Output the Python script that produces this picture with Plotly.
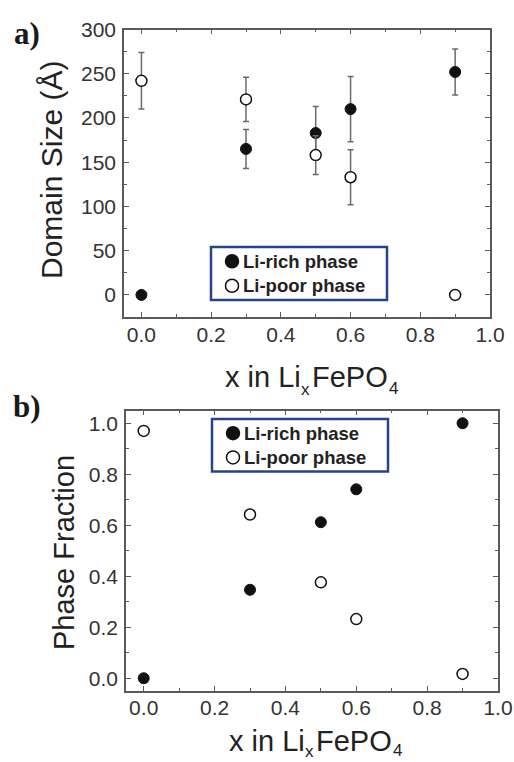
import plotly.graph_objects as go

# Composition x in LixFePO4
x_vals = [0.0, 0.3, 0.5, 0.6, 0.9]

# (a) domain size in Angstrom, with error bars
size_rich = [0, 165, 183, 210, 252]
size_rich_err = [0, 22, 30, 37, 26]
size_poor = [242, 221, 158, 133, 0]
size_poor_err = [32, 25, 22, 31, 0]

# (b) phase fraction
frac_rich = [0.0, 0.347, 0.612, 0.741, 1.0]
frac_poor = [0.970, 0.642, 0.376, 0.232, 0.017]

series_names = ["Li-rich phase", "Li-poor phase"]

W, H = 514, 762
FRAME = "#5a5a5a"
ERR = "#6a6a6a"
TXT = "#222222"
MARK = "#111111"
LEG_BORDER = "#24448c"
FONT = "Liberation Sans, Arial, sans-serif"

fig = go.Figure()


def err(vals):
    return dict(type="data", array=vals, color=ERR, thickness=1.5, width=3,
                visible=True)


filled = dict(symbol="circle", size=11, color=MARK, line=dict(color=MARK, width=1))
hollow = dict(symbol="circle", size=11, color="white", line=dict(color=MARK, width=1.5))

fig.add_trace(go.Scatter(x=x_vals, y=size_rich, mode="markers", name=series_names[0],
                         marker=filled, error_y=err(size_rich_err), xaxis="x", yaxis="y"))
fig.add_trace(go.Scatter(x=x_vals, y=size_poor, mode="markers", name=series_names[1],
                         marker=hollow, error_y=err(size_poor_err), xaxis="x", yaxis="y"))
fig.add_trace(go.Scatter(x=x_vals, y=frac_rich, mode="markers", name=series_names[0],
                         marker=filled, xaxis="x2", yaxis="y2"))
fig.add_trace(go.Scatter(x=x_vals, y=frac_poor, mode="markers", name=series_names[1],
                         marker=hollow, xaxis="x2", yaxis="y2"))


def px_x(p):
    return p / W


def px_y(p):
    return 1 - p / H


def axis(rng, dtick, minor_dtick, fmt, domain, anchor, standoff):
    return dict(
        range=rng, domain=domain, anchor=anchor, automargin=False,
        showline=True, linecolor=FRAME, linewidth=1.6, mirror="allticks",
        showgrid=False, zeroline=False,
        ticks="inside", ticklen=5, tickwidth=1.3, tickcolor=FRAME,
        dtick=dtick, tick0=0, tickformat=fmt,
        minor=dict(dtick=minor_dtick, ticks="inside", ticklen=3,
                   tickwidth=1.2, tickcolor=FRAME, showgrid=False),
        tickfont=dict(family=FONT, size=21, color="#333333"),
        ticklabelstandoff=standoff,
    )


fig.update_layout(
    width=W, height=H,
    margin=dict(l=0, r=0, t=0, b=0, autoexpand=False),
    paper_bgcolor="white", plot_bgcolor="white",
    showlegend=False,
    xaxis=axis([-0.05, 1.0], 0.2, 0.1, ".1f", [px_x(124), px_x(490)], "y", -2),
    yaxis=axis([-25, 300], 50, 25, "d", [px_y(317), px_y(29.5)], "x", 2),
    xaxis2=axis([-0.05, 1.0], 0.2, 0.1, ".1f", [px_x(126), px_x(498)], "y2", -3),
    yaxis2=axis([-0.05, 1.05], 0.2, 0.1, ".1f", [px_y(691), px_y(410.5)], "x2", 2),
)


def text(s, x, y, font, xanchor="center", yanchor="middle", angle=0):
    fig.add_annotation(text=s, xref="paper", yref="paper", x=px_x(x), y=px_y(y),
                       xanchor=xanchor, yanchor=yanchor, textangle=angle,
                       showarrow=False, font=font)


# Boxed legends: (box left, box top, box right, box bottom) in pixels
legend_boxes = [(211, 247, 387, 300), (212, 419, 388, 471.5)]
leg_font = dict(family=FONT, size=18.5, color=TXT, weight="bold")
for (l, t, r, b) in legend_boxes:
    fig.add_shape(type="rect", xref="paper", yref="paper",
                  x0=px_x(l), x1=px_x(r), y0=px_y(b), y1=px_y(t),
                  line=dict(color=LEG_BORDER, width=2.5), fillcolor="white", layer="above")
    row_h = (b - t) / 2
    for i, name in enumerate(series_names):
        cy = t + row_h * (i + 0.5) + (1 if i == 0 else -1)
        cx = l + 21
        fig.add_shape(type="circle", xref="paper", yref="paper",
                      xsizemode="pixel", ysizemode="pixel",
                      xanchor=px_x(cx), yanchor=px_y(cy),
                      x0=-6.5, x1=6.5, y0=-6.5, y1=6.5,
                      fillcolor=MARK if i == 0 else "white",
                      line=dict(color=MARK, width=1.5), layer="above")
        text(name, cx + 9, cy, leg_font, xanchor="left")

# Axis titles
title_font = dict(family=FONT, size=29, color=TXT)
sub_font = dict(family=FONT, size=17, color=TXT)
text("Domain Size (Å)", 51, 170, dict(title_font, size=30), angle=-90)
text("Phase Fraction", 64, 553, title_font, angle=-90)

# "x in LixFePO4" written as main runs plus lowered subscript runs
for x0, y_mid, drop in ((223, 377, 12), (227, 741, 10)):
    text("x in Li", x0, y_mid, title_font, xanchor="left")
    text("x", x0 + 76, y_mid + drop, sub_font, xanchor="left")
    text("FePO", x0 + 87, y_mid, title_font, xanchor="left")
    text("4", x0 + 164, y_mid + drop - 1, sub_font, xanchor="left")

panel_font = dict(family="Liberation Serif, DejaVu Serif, serif", size=31,
                  color="#1a1a1a", weight="bold")
text("a)", 27, 33, panel_font)
text("b)", 27, 406, panel_font)

fig.write_html("out.html")
